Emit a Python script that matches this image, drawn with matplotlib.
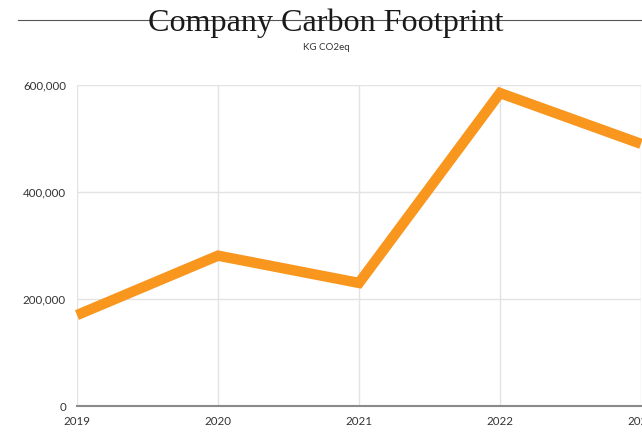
import matplotlib
matplotlib.use("Agg")
import matplotlib.pyplot as plt
from matplotlib.lines import Line2D
from matplotlib.ticker import FuncFormatter

# values (kg CO2eq)
years = [2019, 2020, 2021, 2022, 2023]
emissions = [170000, 281000, 230000, 585000, 490000]
y_ticks = [0, 200000, 400000, 600000]

ORANGE = "#F8961E"
GRID = "#e3e3e3"

fig = plt.figure(figsize=(6.42, 4.36), dpi=100)
ax = fig.add_axes([77 / 642, 30 / 436, 564 / 642, 321 / 436])

ax.plot(years, emissions, color=ORANGE, linewidth=7.5,
        solid_joinstyle="miter", solid_capstyle="butt", clip_on=False, zorder=3)

ax.set_xlim(2019, 2023)
ax.set_ylim(0, 600000)
ax.set_xticks(years)
ax.set_yticks(y_ticks)
ax.yaxis.set_major_formatter(FuncFormatter(lambda v, _: f"{int(v):,}"))

ax.grid(True, color=GRID, linewidth=1)
ax.set_axisbelow(True)
for side in ("top", "right", "left"):
    ax.spines[side].set_visible(False)
ax.spines["bottom"].set_color("#8a8a8a")
ax.spines["bottom"].set_linewidth(1.5)
ax.tick_params(length=0, labelsize=8.3, labelcolor="#333333")
ax.tick_params(axis="x", pad=7.5)
ax.tick_params(axis="y", pad=8)
for lbl in ax.get_xticklabels() + ax.get_yticklabels():
    lbl.set_family("Lato")

# title with a rule running through it
fig.add_artist(Line2D([18 / 642, 1.0], [1 - 20 / 436, 1 - 20 / 436],
                      transform=fig.transFigure, color="#555555", linewidth=0.8))
fig.text(0.507, 1 - 23 / 436, "Company Carbon Footprint", ha="center", va="center",
         family="Liberation Serif", fontsize=23.1, color="#1a1a1a")
fig.text(0.508, 1 - 47 / 436, "KG CO2eq", ha="center", va="center",
         family="Lato", fontsize=7, color="#333333")

fig.savefig("out.png", dpi=100)
